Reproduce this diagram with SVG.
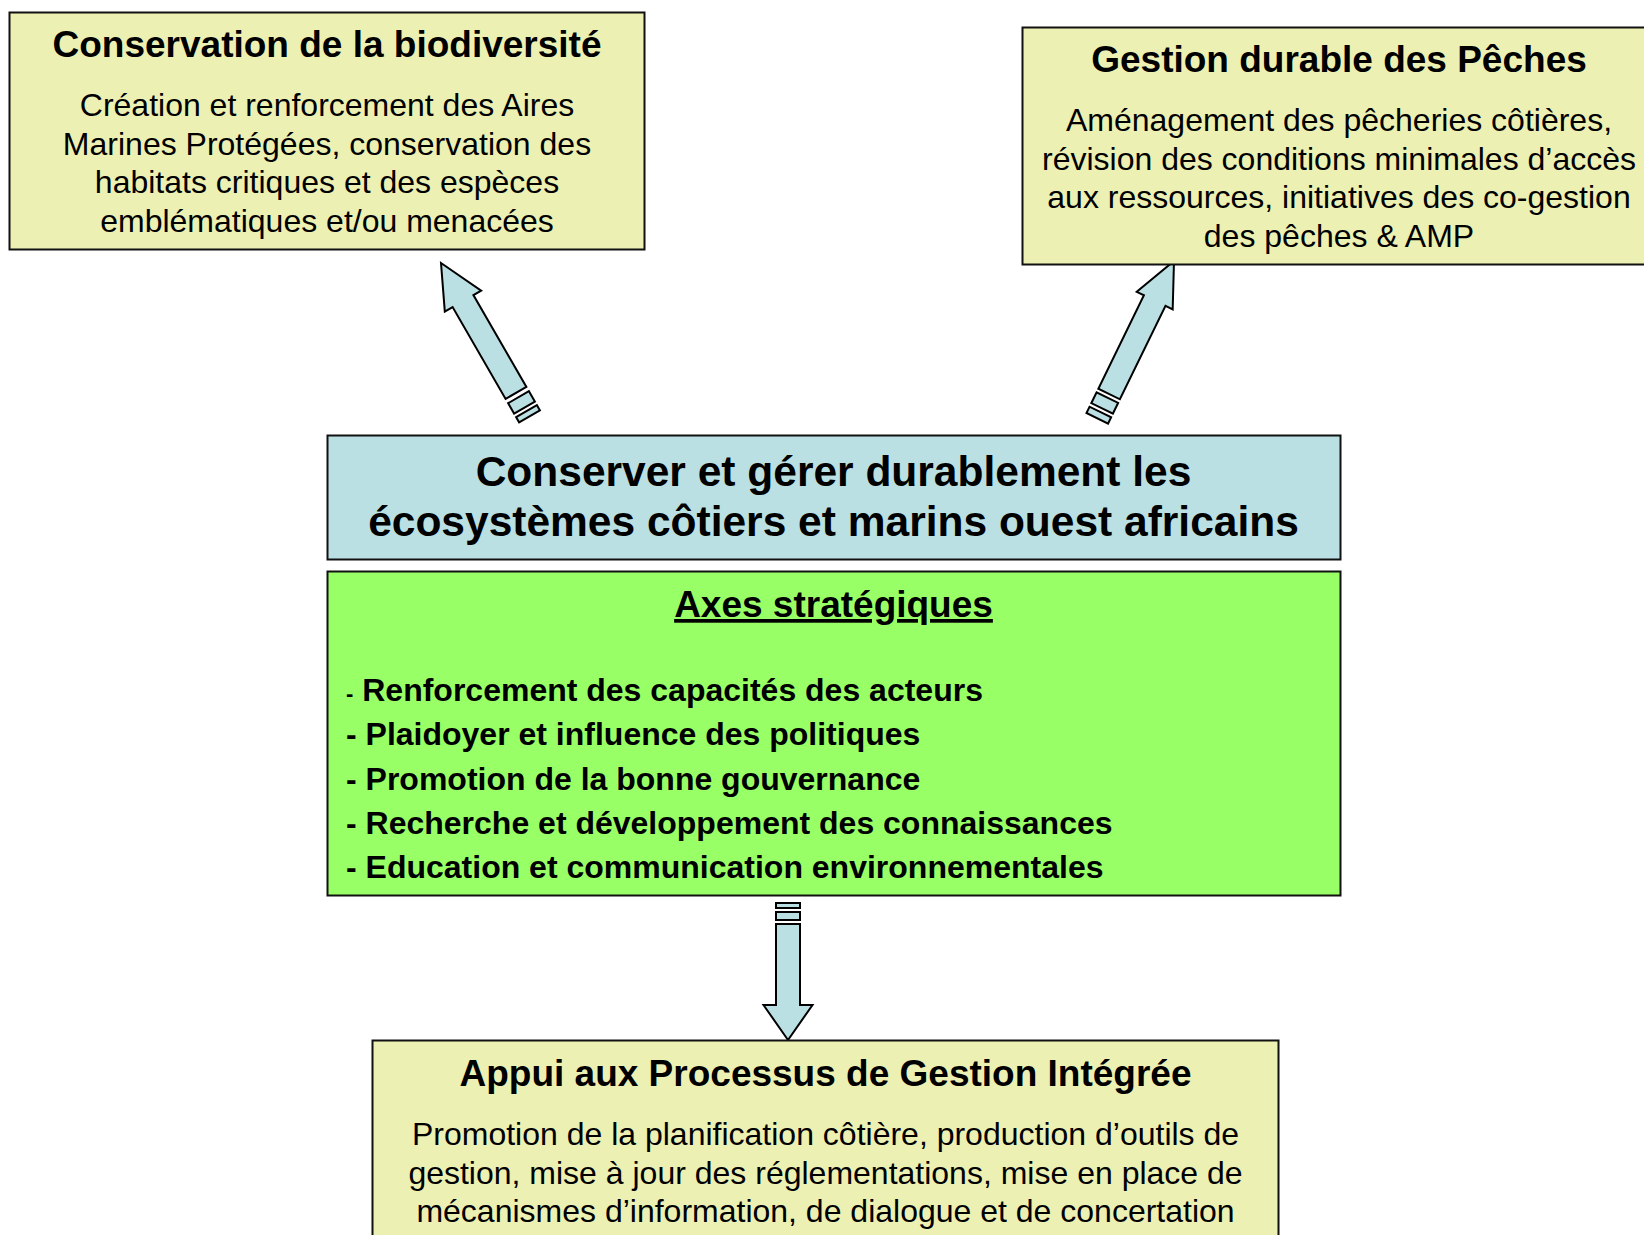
<svg xmlns="http://www.w3.org/2000/svg" width="1644" height="1235" viewBox="0 0 1644 1235">
<style>
.box{stroke:#111;stroke-width:2}
.yel{fill:#ECF0B3}
.blu{fill:#BBE0E3}
.grn{fill:#99FF66}
.arr{fill:#BBE0E3;stroke:#000;stroke-width:2;stroke-linejoin:miter}
text{font-family:"Liberation Sans",Arial,sans-serif;fill:#000}
.t{font-size:37px;font-weight:bold;text-anchor:middle}
.b{font-size:32px;text-anchor:middle}
.m{font-size:42.5px;font-weight:bold;text-anchor:middle}
.l{font-size:32px;font-weight:bold}
</style>
<rect width="1644" height="1235" fill="#fff"/>
<g id="connectors">
<g transform="translate(441,263) rotate(-30)">
<path class="arr" d="M0,0 L21,44 L12,44 L12,150 L-12,150 L-12,44 L-21,44 Z"/>
<rect class="arr" x="-12" y="155" width="24" height="12"/>
<rect class="arr" x="-12" y="171" width="24" height="6"/>
</g>
<g transform="translate(1174,261) rotate(26)">
<path class="arr" d="M0,0 L20,44 L12,44 L12,148 L-12,148 L-12,44 L-20,44 Z"/>
<rect class="arr" x="-12" y="152" width="24" height="12"/>
<rect class="arr" x="-12" y="168" width="24" height="7"/>
</g>
<g transform="translate(788,1040) rotate(180)">
<path class="arr" d="M0,0 L24.5,35 L12,35 L12,116 L-12,116 L-12,35 L-24.5,35 Z"/>
<rect class="arr" x="-12" y="120" width="24" height="8"/>
<rect class="arr" x="-12" y="132" width="24" height="5"/>
</g>
</g>
<g id="biodiversite">
<rect class="box yel" x="9.5" y="12.5" width="635" height="237"/>
<text class="t" x="327" y="57">Conservation de la biodiversité</text>
<text class="b" x="327" y="116">Création et renforcement des Aires</text>
<text class="b" x="327" y="154.5">Marines Protégées, conservation des</text>
<text class="b" x="327" y="193">habitats critiques et des espèces</text>
<text class="b" x="327" y="231.5">emblématiques et/ou menacées</text>
</g>
<g id="peches">
<rect class="box yel" x="1022.5" y="27.5" width="640" height="237"/>
<text class="t" x="1339" y="72">Gestion durable des Pêches</text>
<text class="b" x="1339" y="131">Aménagement des pêcheries côtières,</text>
<text class="b" x="1339" y="169.5">révision des conditions minimales d’accès</text>
<text class="b" x="1339" y="208">aux ressources, initiatives des co-gestion</text>
<text class="b" x="1339" y="246.5">des pêches &amp; AMP</text>
</g>
<g id="objectif">
<rect class="box blu" x="327.5" y="435.5" width="1013" height="124"/>
<text class="m" x="833.5" y="486">Conserver et gérer durablement les</text>
<text class="m" x="833.5" y="536">écosystèmes côtiers et marins ouest africains</text>
</g>
<g id="axes">
<rect class="box grn" x="327.5" y="571.5" width="1013" height="324"/>
<text class="t" x="833.5" y="617" text-decoration="underline">Axes stratégiques</text>
<text class="l" x="346" y="700.5"><tspan font-size="22px">-</tspan> Renforcement des capacités des acteurs</text>
<text class="l" x="346" y="745">- Plaidoyer et influence des politiques</text>
<text class="l" x="346" y="789.5">- Promotion de la bonne gouvernance</text>
<text class="l" x="346" y="834">- Recherche et développement des connaissances</text>
<text class="l" x="346" y="878.3">- Education et communication environnementales</text>
</g>
<g id="gestion-integree">
<rect class="box yel" x="372.5" y="1040.5" width="906" height="210"/>
<text class="t" x="825.5" y="1086">Appui aux Processus de Gestion Intégrée</text>
<text class="b" x="825.5" y="1145">Promotion de la planification côtière, production d’outils de</text>
<text class="b" x="825.5" y="1183.5">gestion, mise à jour des réglementations, mise en place de</text>
<text class="b" x="825.5" y="1222">mécanismes d’information, de dialogue et de concertation</text>
</g>
</svg>
